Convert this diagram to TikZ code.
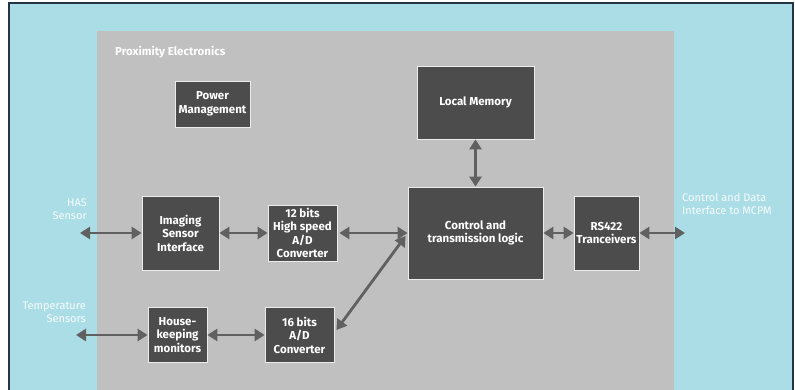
\documentclass[tikz,border=0pt]{standalone}
\usepackage{fontspec}
\setmainfont{Fira Sans}
\usepackage{tikz}
\usetikzlibrary{arrows.meta}
\definecolor{skyback}{RGB}{170,221,230}
\definecolor{frameline}{RGB}{36,52,68}
\definecolor{boardgray}{RGB}{192,192,192}
\definecolor{blockfill}{RGB}{76,76,76}
\definecolor{arrowgray}{RGB}{96,96,96}
\tikzset{
  block/.style={draw=white!85!gray, line width=0.8pt, fill=blockfill, text=white,
    font=\bfseries\fontsize{11.5}{13.5}\selectfont, align=center, inner sep=1pt},
  link/.style={arrowgray, line width=2.8pt,
    {Triangle[length=10pt,width=12pt]}-{Triangle[length=10pt,width=12pt]}},
  outlabel/.style={text=white!92!skyback, font=\fontsize{11}{13}\selectfont, inner sep=0pt}
}

\begin{document}
\begin{tikzpicture}[x=1pt,y=-1pt]
\useasboundingbox (0,0) rectangle (795,390);
% backgrounds
\fill[skyback] (9,3) rectangle (793,392);
\draw[frameline, line width=2.5pt] (9,392) -- (9,3) -- (793,3) -- (793,392);
\fill[boardgray] (97,31) rectangle (674,392);
\node[anchor=west, text=white, font=\bfseries\fontsize{11.5}{13}\selectfont, inner sep=0pt] (title) at (115,52) {Proximity Electronics};

% blocks
\node[block, minimum width=75, minimum height=46] (pwr) at (212.5,104) {Power\\Management};
\node[block, minimum width=117, minimum height=73] (mem) at (475.5,102.5) {Local Memory};
\node[block, minimum width=135, minimum height=92] (ctrl) at (475.5,233) {Control and\\transmission logic};
\node[block, minimum width=65, minimum height=74] (rs) at (606.5,233) {RS422\\Tranceivers};
\node[block, minimum width=77, minimum height=74] (img) at (180.5,233) {Imaging\\Sensor\\Interface};
\node[block, minimum width=69, minimum height=56] (adc12) at (302.5,233) {12 bits\\High speed\\A/D\\Converter};
\node[block, minimum width=59, minimum height=55] (hk) at (177.5,335) {House-\\keeping\\monitors};
\node[block, minimum width=69, minimum height=55] (adc16) at (299.5,335) {16 bits\\A/D\\Converter};

% outside labels
\node[outlabel, anchor=north east, align=right] (has) at (87,199) {HAS\\Sensor};
\node[outlabel, anchor=north east, align=right] (temp) at (86,302) {Temperature\\Sensors};
\node[outlabel, anchor=north west, align=left] (mcpm) at (682,193) {Control and Data\\Interface to MCPM};
\coordinate (hasend) at (80,233);
\coordinate (tempend) at (76,335);
\coordinate (mcpmend) at (685,233);

% connectors
\draw[link] (hasend) -- (img.west);
\draw[link] (img.east) -- (adc12.west);
\draw[link] ([xshift=2pt]adc12.east) -- (ctrl.west);
\draw[link] ([shift={(-2,3)}]ctrl.west) -- ([shift={(2,-5)}]adc16.east);
\draw[link] (mem.south) -- (ctrl.north);
\draw[link] (ctrl.east) -- (rs.west);
\draw[link] (rs.east) -- (mcpmend);
\draw[link] (tempend) -- (hk.west);
\draw[link] (hk.east) -- (adc16.west);
\end{tikzpicture}
\end{document}
